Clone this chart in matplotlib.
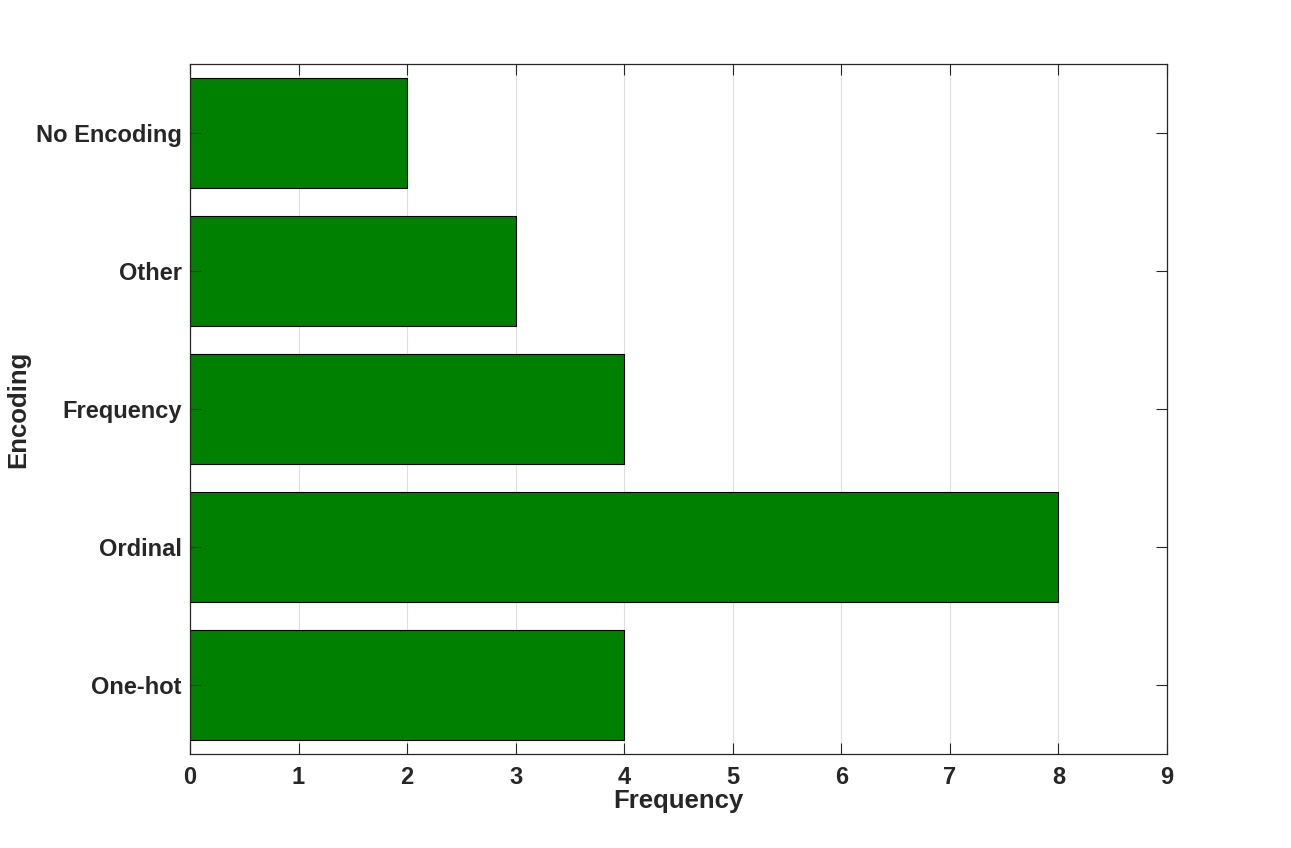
import matplotlib.pyplot as plt
import numpy as np

categories = ["One-hot", "Ordinal", "Frequency", "Other", "No Encoding"]
counts = [4, 8, 4, 3, 2]
xticks = list(range(0, 10))

plt.rcParams['font.family'] = ['Liberation Sans', 'DejaVu Sans']
plt.rcParams['font.weight'] = 'bold'

fig = plt.figure(figsize=(12.91, 8.48), dpi=100)
ax = fig.add_axes((190 / 1291, 1 - 754 / 848, 977 / 1291, 690 / 848))

pos = np.arange(1, len(categories) + 1)
# grid drawn by hand so it stays under the bars while the ticks stay on top
for xt in xticks[1:-1]:
    ax.axvline(xt, color='#dedede', linewidth=0.8, zorder=0)
ax.barh(pos, counts, height=0.8, color='#008000', edgecolor='black', linewidth=0.8, zorder=2)

ax.set_xlim(0, 9)
ax.set_ylim(0.5, 5.5)
ax.set_xticks(xticks)
ax.set_yticks(pos)
ax.set_yticklabels(categories)
ax.set_axisbelow(False)

ax.tick_params(direction='in', length=8, width=0.8, top=True, right=True,
               labelsize=17, colors='#262626')
ax.tick_params(axis='x', pad=8.5)
ax.tick_params(axis='y', pad=6)
for s in ax.spines.values():
    s.set_linewidth(0.9)
    s.set_color('#262626')

ax.set_xlabel("Frequency", fontsize=18.5, fontweight='bold', color='#262626', labelpad=0)
ax.set_ylabel("Encoding", fontsize=18.5, fontweight='bold', color='#262626', labelpad=4)

fig.savefig("out.png", dpi=100)
